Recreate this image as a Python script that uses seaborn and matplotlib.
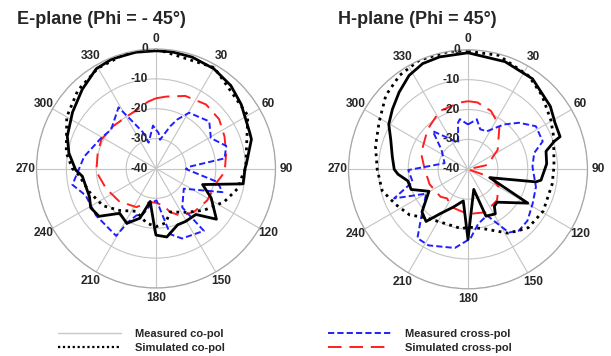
import numpy as np
import pandas as pd
import matplotlib
matplotlib.use("Agg")
import matplotlib.pyplot as plt
import matplotlib.transforms as mtransforms
from matplotlib.lines import Line2D
import seaborn as sns

# ---------------- data (angle in degrees, level in dB) ----------------
E_meas_co_ang = [0, 8, 18, 30, 42, 53, 69, 73, 87, 90, 100, 109, 118, 130, 139, 151, 159, 171,
                 180, 181, 190, 198, 208, 219, 230, 239, 247, 264, 269, 280, 290, 304, 317, 329,
                 338, 350, 360]
E_meas_co_db = [-0.6, -0.6, -0.8, -1.4, -2.6, -4.3, -6.4, -6.6, -9.7, -10.2, -10.4, -23.5, -19.1,
                -13.6, -19.6, -19.7, -19.8, -16.8, -17.7, -19.4, -28.8, -22.5, -19.2, -20.7, -15.1,
                -14.5, -15.8, -15.2, -13.1, -10.4, -8.4, -6.3, -3.8, -1.1, -0.5, -0.5, -0.6]

E_sim_co_ang = [0, 30, 60, 90, 94, 104, 116, 131, 145, 162, 170, 180, 190, 205, 221, 235, 251,
                265, 270, 280, 300, 315, 330, 345, 360]
E_sim_co_db = [0, -1, -4.5, -10, -10.9, -11.9, -14.6, -18.7, -22.1, -24.7, -21.5, -20.5, -21.5,
               -24.2, -21.4, -18.3, -16.3, -14.1, -12, -9.5, -5.5, -3, -1.2, -0.3, 0]

E_meas_x_ang = [0, 4, 8, 18.6, 23.5, 30.7, 48.5, 61, 72.2, 81.6, 87, 91, 102.4, 109.6, 126, 146,
                142.5, 159.6, 167.8, 179, 185, 195.8, 202.6, 207.6, 210.6, 232, 249, 259, 279.3,
                299, 311, 328.5, 333, 340, 344, 356, 360]
E_meas_x_db = [-27, -28, -30.3, -25.1, -22.1, -18.3, -16.2, -19, -15.3, -16.8, -28.9, -30, -18.9,
               -16.4, -28.5, -24.3, -13.7, -15, -17.5, -29.3, -28.8, -24.1, -23, -19.7, -13.8,
               -14.5, -14.8, -11.5, -15.6, -19, -20.1, -16, -22, -27, -31, -25.6, -27]

E_sim_x_ang = [0, 8, 22, 38, 52, 65, 78, 93, 102, 122, 139, 153, 162, 169, 180, 190, 207, 228,
               248, 267, 285, 298, 314, 334, 345, 353, 360]
E_sim_x_db = [-16.5, -15.7, -13.8, -12.8, -13.2, -14.7, -16, -17, -19, -19.8, -20.7, -22.3,
              -24.7, -27.4, -28.5, -28.6, -25.5, -23.5, -22, -20, -19.8, -19.3, -19.8, -19.9,
              -19, -17.5, -16.5]

H_meas_co_ang = [0, 19, 35.5, 52.6, 62, 70.5, 72, 77, 86, 98.5, 100.5, 111, 119.5, 138.5, 144.5,
                 148.5, 159, 164, 180, 188.5, 201, 212, 218.8, 227.2, 240.6, 250.5, 259, 266, 270,
                 279.6, 291, 299.6, 308.4, 318.2, 327.9, 336.8, 345.8, 360]
H_meas_co_db = [-1.0, -1.9, -2.8, -5.3, -7, -7.3, -9.6, -13.2, -13.6, -15.3, -16.9, -32.2, -17,
                -25.3, -24.8, -22.5, -23.2, -33, -16.5, -29.3, -26.5, -22.5, -17.6, -19, -25,
                -19.8, -19.5, -16.5, -15.3, -14.3, -12.3, -9.5, -7.7, -5.4, -2.9, -1.5, -1.2, -1.0]

H_sim_co_ang = [0, 15, 33, 45, 59, 69, 88, 100, 119, 134, 140, 148, 164.5, 180, 186, 203, 222,
                232, 244, 256, 270, 284, 298, 312, 324, 336, 351, 360]
H_sim_co_db = [-0.5, -0.5, -2.7, -5, -7.7, -9.3, -11.2, -11.4, -11.2, -11.9, -13.3, -14.8, -19.3,
               -20.7, -20, -20.3, -18.3, -15.2, -13.1, -10.4, -9.6, -8.1, -6.3, -3, -1.1, 0, 0,
               -0.5]

H_meas_x_ang = [0, 10, 17, 26.4, 38.6, 47.6, 57.6, 69.5, 76.2, 87.7, 104.6, 118, 130.8, 140.4,
                147.1, 157.7, 169.5, 178, 189.5, 207.5, 216.3, 224, 239.8, 248.5, 257.2, 269.3,
                284.6, 306.3, 317.3, 330.9, 339.5, 348, 350.8, 360]
H_meas_x_db = [-25, -23, -26, -25.8, -20.8, -16.9, -13.1, -13.3, -17.2, -18.4, -16.5, -15.5,
               -13.7, -13.3, -14.8, -23.3, -21.4, -16.8, -13.3, -11.3, -11.4, -17.4, -23.8, -13.4,
               -21, -20, -31.9, -29, -22.6, -28.6, -30.6, -24, -23, -25]

H_sim_x_ang = [0, 8, 21.5, 36, 56.6, 77.4, 90, 109, 120, 130, 137, 158, 180, 203.5, 215.7, 225,
               248.8, 270, 289, 314.7, 334, 353, 360]
H_sim_x_db = [-17.2, -17.4, -19, -22.1, -28.1, -33.3, -40, -31.9, -28.1, -27, -25.8, -24.5, -25,
              -26.2, -28, -27, -26.2, -25.5, -23.4, -21, -18.3, -17.5, -17.2]

titles = ["E-plane (Phi = - 45\u00b0)", "H-plane (Phi = 45\u00b0)"]
series_labels = ["Measured co-pol", "Simulated co-pol", "Measured cross-pol", "Simulated cross-pol"]
theta_ticks = list(range(0, 360, 30))
r_ticks = [0, -10, -20, -30, -40]

# ---------------- style ----------------
sns.set_theme(style="white")
plt.rcParams["font.family"] = ["Liberation Sans", "DejaVu Sans"]
plt.rcParams["font.weight"] = "bold"

fig = plt.figure(figsize=(6.11, 3.56), dpi=100)

R_PX = 119.5
W = 2 * R_PX / 611
H = 2 * R_PX / 356
axE = fig.add_axes([(156 - R_PX) / 611, (356 - 168.5 - R_PX) / 356, W, H], projection="polar")
axH = fig.add_axes([(468 - R_PX) / 611, (356 - 169.3 - R_PX) / 356, W, H], projection="polar")

BLUE = "#1f1fff"
RED = "#ff1f1f"
styles = {
    "mco": dict(color="black", lw=2.0, ls="-"),
    "sco": dict(color="black", lw=2.0, ls=(0, (1, 1.6))),
    "mx": dict(color=BLUE, lw=1.4, ls=(0, (3.2, 1.6))),
    "sx": dict(color=RED, lw=1.4, ls=(0, (7, 4))),
}


def draw(ax, series):
    for key, ang, db in series:
        df = pd.DataFrame({"theta": np.deg2rad(ang), "r": db})
        st = styles[key]
        sns.lineplot(data=df, x="theta", y="r", ax=ax, sort=False, estimator=None,
                     color=st["color"], lw=st["lw"], linestyle=st["ls"])


draw(axE, [("sx", E_sim_x_ang, E_sim_x_db), ("mx", E_meas_x_ang, E_meas_x_db),
           ("sco", E_sim_co_ang, E_sim_co_db), ("mco", E_meas_co_ang, E_meas_co_db)])
draw(axH, [("sx", H_sim_x_ang, H_sim_x_db), ("mx", H_meas_x_ang, H_meas_x_db),
           ("sco", H_sim_co_ang, H_sim_co_db), ("mco", H_meas_co_ang, H_meas_co_db)])

for ax in (axE, axH):
    ax.set_theta_zero_location("N")
    ax.set_theta_direction(-1)
    ax.set_ylim(-40, 0)
    ax.set_xticks(np.deg2rad(theta_ticks))
    ax.set_xticklabels([])
    ax.set_yticks([-30, -20, -10, 0])
    ax.set_yticklabels([])
    ax.set_xlabel("")
    ax.set_ylabel("")
    ax.grid(True, color="#c4c4c4", lw=0.8)
    ax.spines["polar"].set_color("#a8a8a8")
    ax.spines["polar"].set_linewidth(0.9)
    ax.set_facecolor("white")
    for a in theta_ticks:
        ax.text(np.deg2rad(a), 3.5, str(a), ha="center", va="center", fontsize=8.6,
                fontweight="bold", clip_on=False)
    off = mtransforms.ScaledTranslation(-8 / 100, 0, fig.dpi_scale_trans)
    for r in r_ticks:
        ax.text(0, r, str(r), ha="right", va="center", fontsize=8.6, fontweight="bold",
                transform=ax.transData + off, clip_on=False, zorder=5)

fig.text(17 / 611, 1 - 19 / 356, titles[0], ha="left", va="center", fontsize=13,
         fontweight="bold")
fig.text(338 / 611, 1 - 19 / 356, titles[1], ha="left", va="center", fontsize=13,
         fontweight="bold")

# ---------------- legends ----------------
h_left = [Line2D([], [], color="#c8c8c8", lw=1.0),
          Line2D([], [], color="black", lw=1.6, ls=(0, (1, 1.2)))]
h_right = [Line2D([], [], color=BLUE, lw=1.4, ls=(0, (3.2, 1.6))),
           Line2D([], [], color=RED, lw=1.4, ls=(0, (7, 4)))]
leg_kw = dict(frameon=False, fontsize=8, handlelength=5.7, handletextpad=1.25,
              labelspacing=0.3, borderpad=0, borderaxespad=0, loc="center left")
leg1 = fig.legend(h_left, series_labels[:2], bbox_to_anchor=(58 / 611, 1 - 341 / 356), **leg_kw)
leg2 = fig.legend(h_right, series_labels[2:], bbox_to_anchor=(328 / 611, 1 - 341 / 356), **leg_kw)
for leg in (leg1, leg2):
    for t in leg.get_texts():
        t.set_fontweight("bold")

fig.savefig("out.png", dpi=100, facecolor="white")
